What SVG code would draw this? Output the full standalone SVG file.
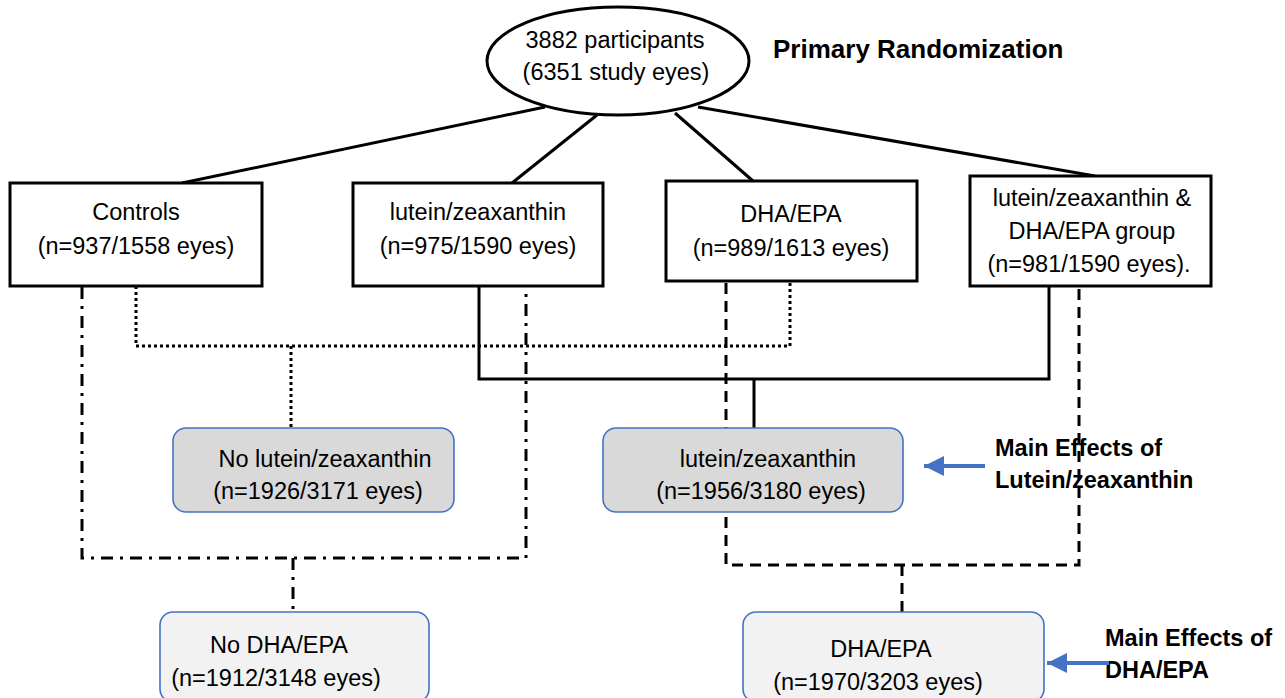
<svg xmlns="http://www.w3.org/2000/svg" width="1285" height="698" viewBox="0 0 1285 698">
<style>
text{font-family:"Liberation Sans",Arial,sans-serif;font-size:23.5px;fill:#000;text-anchor:middle}
.b{font-weight:bold;text-anchor:start}
.box{fill:#fff;stroke:#000;stroke-width:3}
.g1{fill:#d9d9d9;stroke:#4472c4;stroke-width:1.6}
.g2{fill:#f2f2f2;stroke:#4472c4;stroke-width:1.6}
.c{fill:none;stroke:#000;stroke-width:3}
.dot{stroke-dasharray:3 3}
.dash{stroke-dasharray:11 7}
.dd{stroke-dasharray:12 7 3 7}
.arr{stroke:#4472c4;stroke-width:4;fill:none}
</style>
<defs>
<marker id="ah" markerWidth="6" markerHeight="6" refX="5" refY="3" orient="auto" markerUnits="strokeWidth">
<path d="M0,0.5 L5,3 L0,5.5 Z" fill="#4472c4"/>
</marker>
</defs>
<g id="labels">
<text class="b" x="773" y="58" style="font-size:26px">Primary Randomization</text>
<text class="b" x="995" y="456">Main Effects of</text>
<text class="b" x="995" y="488">Lutein/zeaxanthin</text>
<text class="b" x="1105" y="646">Main Effects of</text>
<text class="b" x="1105" y="678">DHA/EPA</text>
</g>
<g id="connectors">
<path class="c" d="M545,107 L182,183"/>
<path class="c" d="M597,115 L512,183"/>
<path class="c" d="M675,113 L753,181"/>
<path class="c" d="M698,107 L1095,176"/>
<path class="c" d="M479,286 V379 H1049 V286"/>
<path class="c" d="M754,379 V428"/>
<path class="c dot" d="M136,286 V346 H790 V281"/>
<path class="c dot" d="M291,346 V428"/>
<path class="c dd" d="M82,287 V558 H526 V290"/>
<path class="c dd" d="M293,558 V612"/>
<path class="c dash" d="M726,283 V565 H1079 V287"/>
<path class="c dash" d="M902,565 V612"/>
<path class="arr" d="M985,466 H924" marker-end="url(#ah)"/>
<path class="arr" d="M1109,663 H1047" marker-end="url(#ah)"/>
</g>
<g id="root">
<ellipse cx="618" cy="61" rx="131" ry="54" fill="#fff" stroke="#000" stroke-width="3"/>
<text x="615" y="48">3882 participants</text>
<text x="616" y="80">(6351 study eyes)</text>
</g>
<g id="controls">
<rect class="box" x="10" y="183" width="252" height="103"/>
<text x="136" y="220">Controls</text>
<text x="136" y="254">(n=937/1558 eyes)</text>
</g>
<g id="lutein">
<rect class="box" x="353" y="183" width="250" height="103"/>
<text x="478" y="220">lutein/zeaxanthin</text>
<text x="478" y="254">(n=975/1590 eyes)</text>
</g>
<g id="dha">
<rect class="box" x="666" y="181" width="251" height="100"/>
<text x="791" y="222">DHA/EPA</text>
<text x="791" y="256">(n=989/1613 eyes)</text>
</g>
<g id="both">
<rect class="box" x="970" y="176" width="241" height="110"/>
<text x="1092" y="206">lutein/zeaxanthin &amp;</text>
<text x="1092" y="239">DHA/EPA group</text>
<text x="1089" y="272">(n=981/1590 eyes).</text>
</g>
<g id="no-lutein">
<rect class="g1" x="173" y="428" width="281" height="84" rx="13"/>
<text x="325" y="467">No lutein/zeaxanthin</text>
<text x="318" y="499">(n=1926/3171 eyes)</text>
</g>
<g id="main-lutein">
<rect class="g1" x="603" y="428" width="300" height="84" rx="13"/>
<text x="768" y="467">lutein/zeaxanthin</text>
<text x="761" y="499">(n=1956/3180 eyes)</text>
</g>
<g id="no-dha">
<rect class="g2" x="160" y="612" width="269" height="90" rx="13"/>
<text x="279" y="653">No DHA/EPA</text>
<text x="276" y="686">(n=1912/3148 eyes)</text>
</g>
<g id="main-dha">
<rect class="g2" x="743" y="612" width="301" height="90" rx="13"/>
<text x="881" y="657">DHA/EPA</text>
<text x="878" y="690">(n=1970/3203 eyes)</text>
</g>
</svg>
